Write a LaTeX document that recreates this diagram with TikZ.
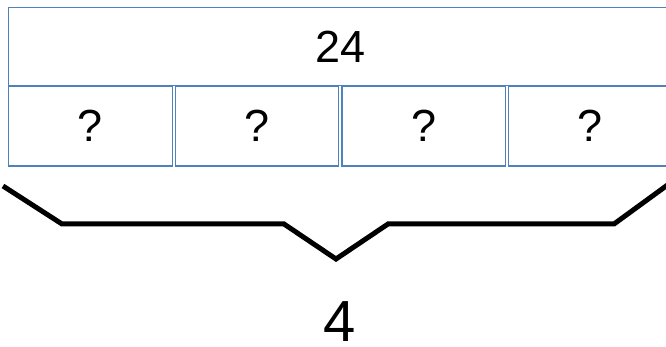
\documentclass[tikz,border=0pt]{standalone}
\usepackage{fontspec}
\setmainfont{Liberation Sans}
\definecolor{boxblue}{RGB}{79,129,189}
\begin{document}
\begin{tikzpicture}[x=1pt,y=-1pt,
  cell/.style={draw=boxblue, line width=1.2pt, inner sep=0pt, font=\fontsize{45}{54}\selectfont},
  brace/.style={draw=black, line width=5pt, line join=miter}]
\useasboundingbox (0,0) rectangle (666,347);
\clip (0,0) rectangle (666,347);
\node[cell, minimum width=663.5pt, minimum height=78pt] (total) at (340.25,46.5) {24};
\node[cell, minimum width=164pt, minimum height=80pt] (p1) at (90.5,126) {?};
\node[cell, minimum width=163.5pt, minimum height=80pt] (p2) at (257,126) {?};
\node[cell, minimum width=163.5pt, minimum height=80pt] (p3) at (423.7,126) {?};
\node[cell, minimum width=164pt, minimum height=80pt] (p4) at (590.2,126) {?};
\coordinate (b0) at (3,186);
\coordinate (b1) at (62,224);
\coordinate (b2) at (284,224);
\coordinate (b3) at (336,259);
\coordinate (b4) at (388,224);
\coordinate (b5) at (614,224);
\coordinate (b6) at (673,181);
\draw[brace] (b0) -- (b1) -- (b2) -- (b3) -- (b4) -- (b5) -- (b6);
\node[font=\fontsize{58}{68}\selectfont, inner sep=0pt] (count) at (340,322) {4};
\end{tikzpicture}
\end{document}
